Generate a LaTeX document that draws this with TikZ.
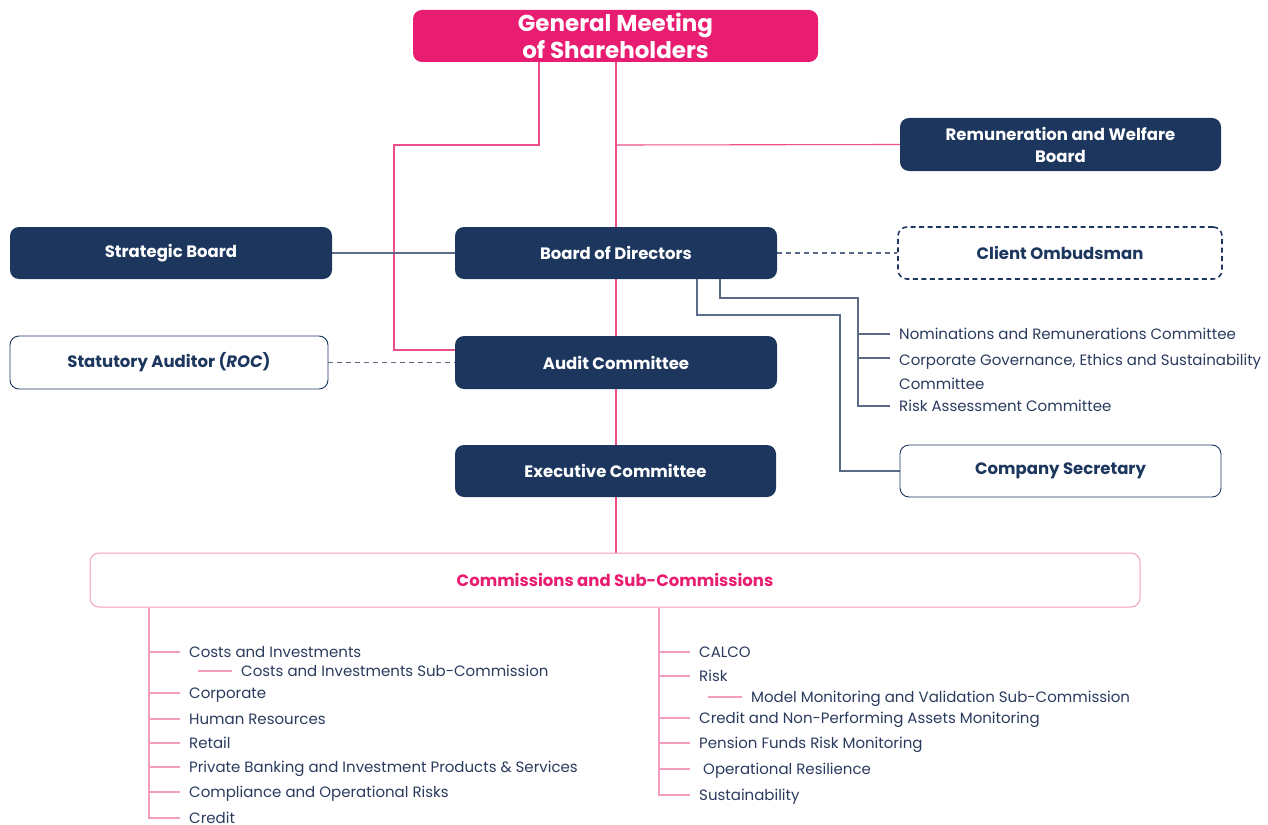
\documentclass[tikz,border=0pt]{standalone}
\usepackage{fontspec}
\setmainfont{Poppins}
\usetikzlibrary{backgrounds}
\definecolor{navy}{HTML}{1C365E}
\definecolor{pinkf}{HTML}{E81C70}
\definecolor{pinkl}{HTML}{EC4F8C}
\definecolor{pinkll}{HTML}{F39CC0}
\definecolor{navyl}{HTML}{5A6B88}
\definecolor{txt}{HTML}{2A3B5E}
\tikzset{
  base/.style={rounded corners=9pt, inner sep=0pt, align=center},
  darkbox/.style={base, fill=navy, text=white, font=\fontsize{16.5}{22}\selectfont\bfseries},
  whitebox/.style={base, fill=white, draw=navy, line width=0.9pt, text=navy, font=\fontsize{16.5}{22}\selectfont\bfseries},
  item/.style={anchor=west, inner xsep=9pt, inner ysep=0pt, text=txt, font=\fontsize{15}{24}\selectfont, text height=13pt, text depth=1.5pt, align=left},
  pinkline/.style={draw=pinkl, line width=1.1pt},
  listline/.style={draw=pinkll, line width=1.1pt},
  navyline/.style={draw=navyl, line width=1.1pt},
}
\begin{document}
\begin{tikzpicture}[x=1pt,y=-1pt]
\useasboundingbox (0,0) rectangle (1268,824);
% boxes
\node[base, fill=pinkf, text=white, font=\fontsize{23}{27}\selectfont\bfseries, minimum width=405pt, minimum height=52pt] (gms) at (615.5,36) {General Meeting\\of Shareholders};
\node[darkbox, minimum width=321pt, minimum height=53pt] (rem) at (1060.5,144.5) {Remuneration and Welfare\\Board};
\node[darkbox, minimum width=322pt, minimum height=52pt] (strat) at (171,253) {Strategic Board};
\node[darkbox, minimum width=322pt, minimum height=52pt] (bod) at (616,253) {Board of Directors};
\node[whitebox, dashed, dash pattern=on 5pt off 3.5pt, line width=1.6pt, minimum width=324pt, minimum height=52pt] (omb) at (1060,253) {Client Ombudsman};
\node[whitebox, minimum width=318pt, minimum height=53pt] (stat) at (169,362.5) {Statutory Auditor (\textit{ROC})};
\node[darkbox, minimum width=322pt, minimum height=53pt] (audit) at (616,362.5) {Audit Committee};
\node[darkbox, minimum width=321pt, minimum height=52pt] (exec) at (615.5,471) {Executive Committee};
\node[whitebox, minimum width=321pt, minimum height=52pt] (csec) at (1060.5,471) {Company Secretary};
\node[base, draw=pinkll, line width=1pt, fill=white, text=pinkf, font=\fontsize{16.5}{22}\selectfont\bfseries, minimum width=1050pt, minimum height=54pt] (comm) at (615,580) {Commissions and Sub-Commissions};
% committees of BoD
\node[item] (nom) at (890,334) {Nominations and Remunerations Committee};
\node[item, anchor=north west, text height=37pt] (cg) at (890,352) {Corporate Governance, Ethics and Sustainability\\Committee};
\node[item] (risk) at (890,406) {Risk Assessment Committee};
% left list
\node[item] (l1) at (180,652) {Costs and Investments};
\node[item] (l1a) at (232,671) {Costs and Investments Sub-Commission};
\node[item] (l2) at (180,693) {Corporate};
\node[item] (l3) at (180,719) {Human Resources};
\node[item] (l4) at (180,743) {Retail};
\node[item] (l5) at (180,767) {Private Banking and Investment Products \& Services};
\node[item] (l6) at (180,792) {Compliance and Operational Risks};
\node[item] (l7) at (180,818) {Credit};
% right list
\node[item] (r1) at (690,652) {CALCO};
\node[item] (r2) at (690,676) {Risk};
\node[item] (r2a) at (742,697) {Model Monitoring and Validation Sub-Commission};
\node[item] (r3) at (690,718) {Credit and Non-Performing Assets Monitoring};
\node[item] (r4) at (690,743) {Pension Funds Risk Monitoring};
\node[item] (r5) at (694,769) {Operational Resilience};
\node[item] (r6) at (690,795) {Sustainability};
\begin{scope}[on background layer]
% pink hierarchy
\draw[pinkline] (539,0 |- gms.south) |- (394,145) |- (audit.west |- 0,350);
\draw[pinkline] (616,0 |- gms.south) -- (616,0 |- comm.north);
\draw[pinkline] (616,145) -- (rem.west);
% navy
\draw[navyline] (strat.east) -- (bod.west);
\draw[navyline, dashed, dash pattern=on 5pt off 4pt] (bod.east) -- (omb.west);
\draw[navyline, dashed, dash pattern=on 5pt off 4pt] (stat.east) -- (audit.west |- stat.east);
\draw[navyline] (720,0 |- bod.south) |- (858,298) |- (risk.west);
\draw[navyline] (858,334) -- (nom.west);
\draw[navyline] (858,358) -- (cg.west |- 0,358);
\draw[navyline] (697,0 |- bod.south) |- (840,315) |- (csec.west);
% left list
\draw[listline] (149,0 |- comm.south) |- (l7.west);
\foreach \n in {l1,l2,l3,l4,l5,l6} \draw[listline] (149,0 |- \n.west) -- (\n.west);
\draw[listline] (198,0 |- l1a.west) -- (l1a.west);
% right list
\draw[listline] (659,0 |- comm.south) |- (r6.west);
\foreach \n in {r1,r2,r3,r4} \draw[listline] (659,0 |- \n.west) -- (\n.west);
\draw[listline] (659,0 |- r5.west) -- (690,0 |- r5.west);
\draw[listline] (708,0 |- r2a.west) -- (r2a.west);
\end{scope}
\end{tikzpicture}
\end{document}
